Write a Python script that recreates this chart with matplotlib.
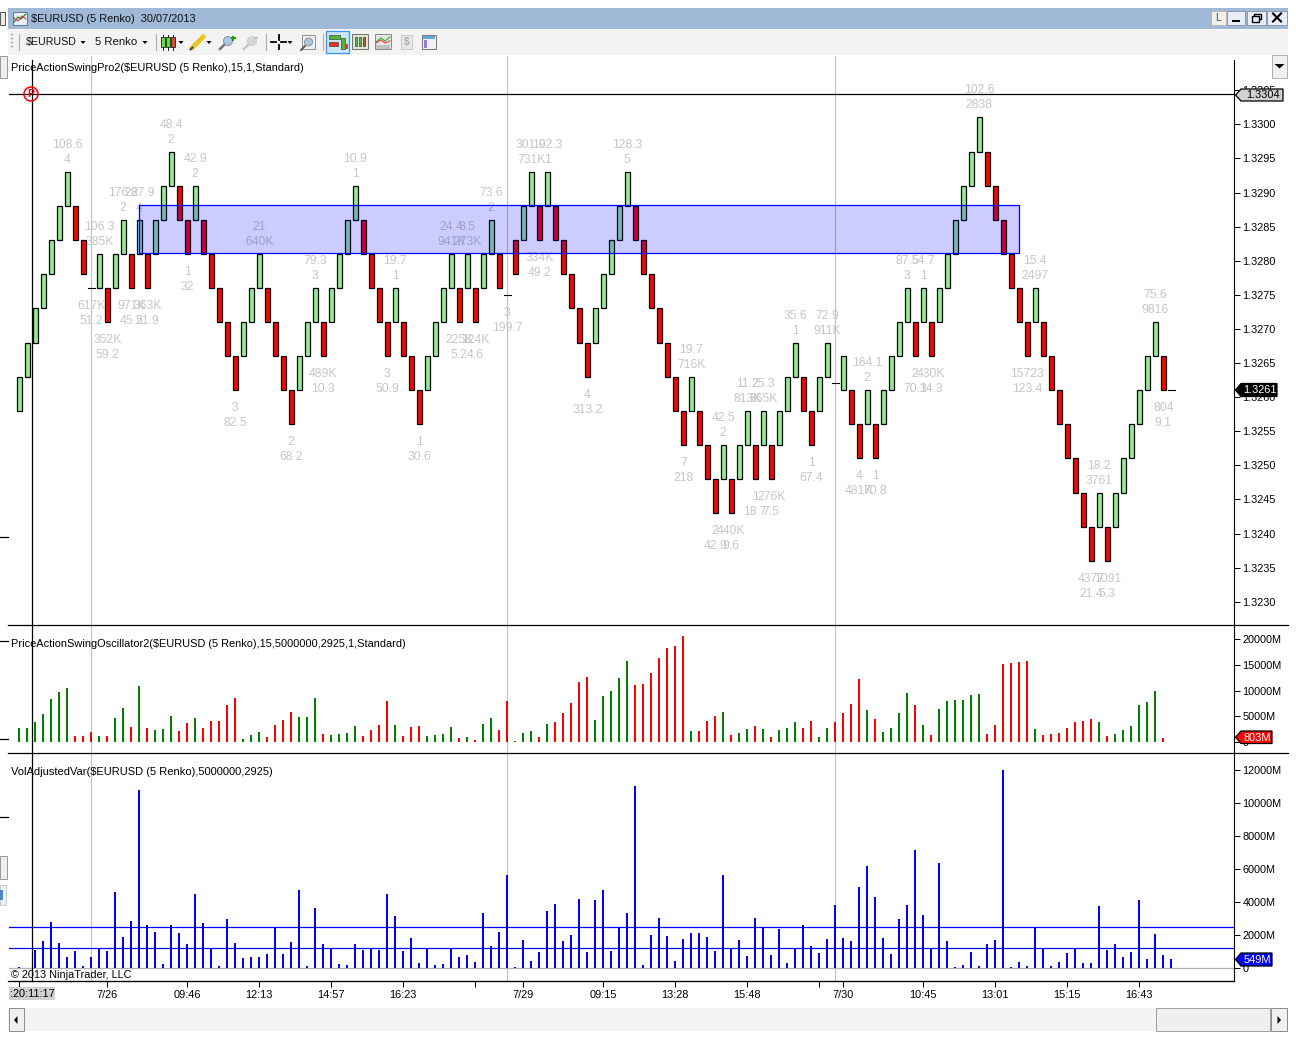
import matplotlib
matplotlib.use("Agg")
import matplotlib.pyplot as plt
from matplotlib.patches import Rectangle, Polygon, Circle

plt.rcParams["font.family"] = ["Liberation Sans", "DejaVu Sans"]

W, H = 1296, 1040
LABEL_C = "#C8C6C4"
UP_C = "#90EE90"
DOWN_C = "#FF0000"
OSC_G = "#008000"

# renko bricks, one per slot (open == close is the session gap doji)
bar_open = [
    1.3258, 1.3263, 1.3268, 1.3273, 1.3278, 1.3283, 1.3288, 1.3288, 1.3283, 1.3276,
    1.3276, 1.3276, 1.3276, 1.3281, 1.3281, 1.3281, 1.3281, 1.3281, 1.3286, 1.3291,
    1.3291, 1.3286, 1.3286, 1.3286, 1.3281, 1.3276, 1.3271, 1.3266, 1.3266, 1.3271,
    1.3276, 1.3276, 1.3271, 1.3266, 1.3261, 1.3261, 1.3266, 1.3271, 1.3271, 1.3271,
    1.3276, 1.3281, 1.3286, 1.3286, 1.3281, 1.3276, 1.3271, 1.3271, 1.3271, 1.3266,
    1.3261, 1.3261, 1.3266, 1.3271, 1.3276, 1.3276, 1.3276, 1.3276, 1.3276, 1.3281,
    1.3281, 1.3275, 1.3283, 1.3283, 1.3288, 1.3288, 1.3288, 1.3288, 1.3283, 1.3278,
    1.3273, 1.3268, 1.3268, 1.3273, 1.3278, 1.3283, 1.3288, 1.3288, 1.3283, 1.3278,
    1.3273, 1.3268, 1.3263, 1.3258, 1.3258, 1.3258, 1.3253, 1.3248, 1.3248, 1.3248,
    1.3248, 1.3253, 1.3253, 1.3253, 1.3253, 1.3253, 1.3258, 1.3263, 1.3263, 1.3258,
    1.3258, 1.3263, 1.3262, 1.3261, 1.3261, 1.3256, 1.3256, 1.3256, 1.3256, 1.3261,
    1.3266, 1.3271, 1.3271, 1.3271, 1.3271, 1.3271, 1.3276, 1.3281, 1.3286, 1.3291,
    1.3296, 1.3296, 1.3291, 1.3286, 1.3281, 1.3276, 1.3271, 1.3271, 1.3271, 1.3266,
    1.3261, 1.3256, 1.3251, 1.3246, 1.3241, 1.3241, 1.3241, 1.3241, 1.3246, 1.3251,
    1.3256, 1.3261, 1.3266, 1.3266, 1.3261,
]
bar_close = [
    1.3263, 1.3268, 1.3273, 1.3278, 1.3283, 1.3288, 1.3293, 1.3283, 1.3278, 1.3276,
    1.3281, 1.3271, 1.3281, 1.3286, 1.3276, 1.3286, 1.3276, 1.3286, 1.3291, 1.3296,
    1.3286, 1.3281, 1.3291, 1.3281, 1.3276, 1.3271, 1.3266, 1.3261, 1.3271, 1.3276,
    1.3281, 1.3271, 1.3266, 1.3261, 1.3256, 1.3266, 1.3271, 1.3276, 1.3266, 1.3276,
    1.3281, 1.3286, 1.3291, 1.3281, 1.3276, 1.3271, 1.3266, 1.3276, 1.3266, 1.3261,
    1.3256, 1.3266, 1.3271, 1.3276, 1.3281, 1.3271, 1.3281, 1.3271, 1.3281, 1.3286,
    1.3276, 1.3275, 1.3278, 1.3288, 1.3293, 1.3283, 1.3293, 1.3283, 1.3278, 1.3273,
    1.3268, 1.3263, 1.3273, 1.3278, 1.3283, 1.3288, 1.3293, 1.3283, 1.3278, 1.3273,
    1.3268, 1.3263, 1.3258, 1.3253, 1.3263, 1.3253, 1.3248, 1.3243, 1.3253, 1.3243,
    1.3253, 1.3258, 1.3248, 1.3258, 1.3248, 1.3258, 1.3263, 1.3268, 1.3258, 1.3253,
    1.3263, 1.3268, 1.3262, 1.3266, 1.3256, 1.3251, 1.3261, 1.3251, 1.3261, 1.3266,
    1.3271, 1.3276, 1.3266, 1.3276, 1.3266, 1.3276, 1.3281, 1.3286, 1.3291, 1.3296,
    1.3301, 1.3291, 1.3286, 1.3281, 1.3276, 1.3271, 1.3266, 1.3276, 1.3266, 1.3261,
    1.3256, 1.3251, 1.3246, 1.3241, 1.3236, 1.3246, 1.3236, 1.3246, 1.3251, 1.3256,
    1.3261, 1.3266, 1.3271, 1.3261, 1.3261,
]

# swing labels above highs and below lows: bar slot, upper line, lower line
high_bar = [6, 19, 22, 13, 15, 10, 30, 42, 37, 47, 54, 56, 59, 64, 66, 76, 97, 101, 84, 88,
            91, 93, 106, 111, 113, 120, 127, 135, 142]
high_top = ["108.6", "48.4", "42.9", "176.2", "287.9", "106.3", "21", "10.9", "79.3", "19.7",
            "24.4", "8.5", "73.6", "301.9", "102.3", "128.3", "35.6", "72.9", "19.7", "42.5",
            "11.2", "25.3", "164.1", "87.5", "54.7", "102.6", "15.4", "18.2", "75.6"]
high_bot = ["4", "2", "2", "2", "4", "385K", "640K", "1", "3", "1",
            "941K", "273K", "2", "731K", "1", "5", "1", "911K", "716K", "2",
            "813K", "865K", "2", "3", "1", "2838", "2497", "3761", "9816"]
low_bar = [9, 11, 14, 16, 21, 27, 34, 38, 46, 50, 55, 57, 61, 65, 71, 83, 87, 89, 92, 94,
           99, 105, 107, 112, 114, 126, 134, 136, 143]
low_top = ["617K", "352K", "971K", "363K", "1", "3", "2", "489K", "3", "1",
           "225K", "124K", "3", "334K", "4", "7", "2", "440K", "1", "276K",
           "1", "4", "1", "2", "430K", "15723", "4377", "1091", "804"]
low_bot = ["51.2", "59.2", "45.2", "51.9", "32", "82.5", "68.2", "10.3", "50.9", "30.6",
           "5.2", "4.6", "199.7", "49.2", "313.2", "218", "42.9", "9.6", "18.7", "7.5",
           "67.4", "481K", "70.8", "70.1", "34.3", "123.4", "21.4", "5.3", "9.1"]

zone_bars = [15, 125]
zone_prices = [1.32811, 1.32882]

osc_values = [
    2730, 2730, 3900, 5460, 8385, 9750, 10530, 1170, 1170, 1950, 1170, 1170, 4680, 6630, 2925,
    10920, 2730, 2340, 2535, 5070, 2145, 3705, 4680, 2730, 4095, 4095, 7215, 8580, 585, 1365,
    1950, 975, 3315, 4290, 5850, 4875, 4875, 8580, 1560, 1365, 1560, 1755, 3120, 1170, 2340,
    3315, 7995, 3315, 1170, 2925, 3120, 1170, 1365, 1560, 2925, 780, 975, 390, 3510, 4680,
    2340, 7995, 130, 1755, 2145, 975, 3510, 3900, 5655, 7605, 11700, 12675, 4290, 8970, 9945,
    12480, 15795, 11115, 11310, 13455, 16380, 18330, 18720, 20670, 2145, 2145, 4095, 5070,
    5850, 1365, 1755, 2535, 3120, 2535, 975, 2340, 2730, 3900, 2730, 4095, 975, 2730, 3900,
    5655, 7410, 12285, 6240, 4485, 1950, 2730, 5655, 9555, 7215, 3315, 1365, 6435, 7995, 8190,
    8190, 9165, 9360, 1560, 3315, 15210, 15405, 15600, 15795, 2535, 1365, 1560, 1755, 2730,
    3900, 4095, 4485, 3900, 1170, 1560, 2340, 3120, 7215, 7800, 9945, 803,
]
osc_up = [
    1, 1, 1, 1, 1, 1, 1, 0, 0, 0, 1, 0, 1, 1, 0, 1, 0, 1, 1, 1, 0, 0, 1, 0, 0, 0, 0, 0, 1, 1,
    1, 0, 0, 0, 0, 1, 1, 1, 0, 1, 1, 1, 1, 0, 0, 0, 0, 1, 0, 0, 0, 1, 1, 1, 1, 0, 1, 0, 1, 1,
    0, 0, 1, 1, 1, 0, 1, 0, 0, 0, 0, 0, 1, 1, 1, 1, 1, 0, 0, 0, 0, 0, 0, 0, 1, 0, 0, 0, 1, 0,
    1, 1, 0, 1, 0, 1, 1, 1, 0, 0, 1, 1, 0, 0, 0, 0, 1, 0, 1, 1, 1, 1, 0, 1, 0, 1, 1, 1, 1, 1,
    1, 0, 0, 0, 0, 0, 0, 1, 0, 0, 0, 0, 0, 0, 0, 1, 0, 1, 1, 1, 1, 1, 1, 0,
]

vol_values = [
    60, 0, 1090, 1636, 2788, 1515, 667, 1030, 121, 667, 1151, 1030, 4606, 1879, 2848, 10787,
    2606, 2182, 242, 2606, 2121, 1454, 4484, 2727, 1252, 121, 2969, 1515, 606, 667, 667, 848,
    2424, 848, 1576, 4727, 121, 3636, 1454, 1252, 242, 182, 1454, 1090, 1151, 1090, 4484, 3151,
    1030, 1818, 303, 1151, 182, 242, 1252, 667, 788, 364, 3333, 1333, 2182, 5636, 60, 1697,
    424, 970, 3454, 3878, 1636, 2000, 4181, 970, 4121, 4727, 1030, 2424, 3333, 11029,
    182, 2000, 3030, 1939, 424, 1757, 2121, 2121, 1879, 1030, 5636, 1252, 1697, 727, 3030,
    2525, 788, 2363, 303, 1252, 2606, 1333, 909, 1757, 3818, 1818, 1636, 4909, 6181, 4303,
    1818, 848, 2969, 3818, 7151, 3212, 1252, 6363, 1636, 60, 182, 970, 121, 1454, 1697, 11999,
    60, 364, 121, 2525, 1252, 121, 364, 909, 1252, 303, 303, 3757, 1090, 1454, 667, 970, 4121,
    545, 2060, 788, 549,
]
vol_levels = [2525, 1252]

price_ticks = [1.3230, 1.3235, 1.3240, 1.3245, 1.3250, 1.3255, 1.3260, 1.3265, 1.3270, 1.3275,
               1.3280, 1.3285, 1.3290, 1.3295, 1.3300, 1.3305]
osc_ticks = [0, 5000, 10000, 15000, 20000]
vol_ticks = [0, 2000, 4000, 6000, 8000, 10000, 12000]
time_ticks = [0, 11, 21, 30, 39, 48, 57, 63, 73, 82, 91, 100, 103, 113, 122, 131, 140]
time_labels = ["", "7/26", "09:46", "12:13", "14:57", "16:23", "", "7/29", "09:15", "13:28",
               "15:48", "", "7/30", "10:45", "13:01", "15:15", "16:43"]
session_bars = [9, 61, 102]


def make_panel(fig, top, bottom):
    # panels share the x scale: slot i sits at 19.3 + 8 * i pixels
    ax = fig.add_axes([9 / W, 1 - bottom / H, (1234.3 - 9) / W, (bottom - top) / H])
    ax.set_xlim((9 - 19.3) / 8, (1234.3 - 19.3) / 8)
    for side in ["top", "left", "bottom"]:
        ax.spines[side].set_visible(False)
    ax.spines["right"].set_linewidth(0.8)
    ax.yaxis.tick_right()
    ax.tick_params(axis="y", length=4.3, width=0.72, labelsize=7.8, pad=1.5)
    ax.set_xticks([])
    for b in session_bars:
        ax.axvline(b, color="#C0C0C0", lw=0.8, zorder=0)
    return ax


def draw_main(ax):
    ylow, yhigh = 1.33 - (625 - 124.3) / 68200, 1.33 + (124.3 - 56) / 68200
    ax.set_ylim(ylow, yhigh)
    ax.spines["right"].set_bounds(ylow, 1.33 + (124.3 - 60) / 68200)
    for i, (o, c) in enumerate(zip(bar_open, bar_close)):
        if o == c:
            ax.plot([i - 0.45, i + 0.45], [c, c], color="black", lw=0.8, zorder=2)
        else:
            ax.bar(i, abs(c - o), bottom=min(o, c), width=0.68,
                   color=UP_C if c > o else DOWN_C, edgecolor="black", linewidth=0.9, zorder=2)

    for i, t, b in zip(high_bar, high_top, high_bot):
        top = max(bar_open[i], bar_close[i])
        for txt, off in ((t, 27), (b, 12)):
            ax.annotate(txt, (i, top), xytext=(0, off * 0.72), textcoords="offset points",
                        ha="center", va="center", color=LABEL_C, fontsize=8.7, zorder=1)
    for i, t, b in zip(low_bar, low_top, low_bot):
        low = min(bar_open[i], bar_close[i])
        for txt, off in ((t, -18), (b, -33)):
            ax.annotate(txt, (i, low), xytext=(0, off * 0.72), textcoords="offset points",
                        ha="center", va="center", color=LABEL_C, fontsize=8.7, zorder=1)

    # supply zone goes over the bricks and the labels
    ax.add_patch(Rectangle((zone_bars[0], zone_prices[0]), zone_bars[1] - zone_bars[0],
                           zone_prices[1] - zone_prices[0], facecolor=(0, 0, 1, 0.2),
                           edgecolor="#0000FF", linewidth=0.9, zorder=3))
    ax.set_yticks(price_ticks)
    ax.set_yticklabels(["{:.4f}".format(p) for p in price_ticks])


def draw_osc(ax):
    ax.set_ylim((741.8 - 753) * 20000 / 102.5, (741.8 - 625) * 20000 / 102.5)
    colors = [OSC_G if u else DOWN_C for u in osc_up]
    ax.bar(range(len(osc_values)), osc_values, width=0.24, color=colors, zorder=2)
    ax.set_yticks(osc_ticks)
    ax.set_yticklabels(["0" if v == 0 else "{}M".format(v) for v in osc_ticks])


def draw_vol(ax):
    ax.set_ylim((968.3 - 981) * 2000 / 33, (968.3 - 753) * 2000 / 33)
    ax.bar(range(len(vol_values)), vol_values, width=0.24, color="#0000FF", zorder=2)
    for lv in vol_levels:
        ax.axhline(lv, color="#0000FF", lw=0.9, zorder=3)
    ax.axhline(0, color="#B0B0B0", lw=0.9, zorder=1)
    ax.set_yticks(vol_ticks)
    ax.set_yticklabels(["0" if v == 0 else "{}M".format(v) for v in vol_ticks])
    ax.spines["bottom"].set_visible(True)
    ax.spines["bottom"].set_linewidth(0.8)
    ax.set_xticks(time_ticks)
    ax.set_xticklabels(time_labels)
    ax.tick_params(axis="x", length=4.3, width=0.72, labelsize=7.9, pad=2.5)


def rect(ov, x0, y0, x1, y1, fc, ec="none", lw=0.7, z=1):
    ov.add_patch(Rectangle((x0, y0), x1 - x0, y1 - y0, facecolor=fc, edgecolor=ec, linewidth=lw, zorder=z))


def value_tag(ov, y0, y1, x1, fc, ec, tc, txt):
    mid = (y0 + y1) / 2
    ov.add_patch(Polygon([(1235.5, mid), (1241, y0), (x1, y0), (x1, y1), (1241, y1)],
                         closed=True, facecolor=fc, edgecolor=ec, linewidth=0.9, zorder=6))
    ov.text((1241 + x1) / 2 + 0.5, mid + 0.3, txt, color=tc, fontsize=7.9, ha="center", va="center", zorder=7)


def draw_window_buttons(ov):
    fill = "#E8EEF8"
    rect(ov, 1211, 11, 1226, 24.5, "#F4EFE0", "#B8B8B8", z=2)
    ov.text(1218.5, 18, "L", fontsize=7.5, ha="center", va="center", color="#205080", zorder=4)
    rect(ov, 1227, 10.5, 1245, 24.5, fill, "#8A98A8", z=2)
    rect(ov, 1232, 20, 1240, 22, "black", z=3)
    rect(ov, 1247, 10.5, 1266, 24.5, fill, "#8A98A8", z=2)
    rect(ov, 1254, 13.5, 1261, 19, "none", "black", lw=1, z=3)
    rect(ov, 1251.5, 16, 1258.5, 21.5, fill, "black", lw=1, z=4)
    rect(ov, 1267, 10.5, 1287, 24.5, fill, "#8A98A8", z=2)
    ov.plot([1273, 1281], [13.5, 21.5], color="black", lw=1.5, zorder=3)
    ov.plot([1281, 1273], [13.5, 21.5], color="black", lw=1.5, zorder=3)


def draw_toolbar(ov):
    ov.text(26, 42, "$EURUSD", fontsize=7.7, va="center", zorder=4, color="#101010")
    ov.text(95, 42, "5 Renko", fontsize=8.2, va="center", zorder=4, color="#101010")
    for x in [83, 145, 181, 209, 290]:
        ov.add_patch(Polygon([(x - 2.5, 41), (x + 2.5, 41), (x, 44)], facecolor="black", zorder=4))
    for y in [34, 38, 42, 46]:
        ov.plot([11, 12], [y, y], color="#A0A0A0", lw=1, zorder=3)
    for x in [19, 156, 266, 323]:
        ov.plot([x, x], [34, 50], color="#B0B0B0", lw=0.8, zorder=3)
    # candle icon
    for x, c in [(163, "#66DD33"), (168, "#66DD33"), (173, "#EE4422")]:
        ov.plot([x, x], [34.5, 49.5], color="#222222", lw=0.7, zorder=3)
        rect(ov, x - 2, 37, x + 2, 47, c, "#222222", lw=0.6, z=4)
    # pencil
    ov.plot([192.5, 203], [47.5, 37], color="#E8C820", lw=3.4, zorder=3)
    ov.plot([190.5, 192.5], [49.5, 47.5], color="#444444", lw=1.4, zorder=3)
    # add-drawing magnifiers
    ov.plot([220, 226], [49, 43], color="#6A7A8A", lw=1.8, zorder=3)
    ov.add_patch(Circle((228, 41), 4.5, facecolor="#A8C8E8", edgecolor="#888888", lw=0.6, zorder=3))
    rect(ov, 230.5, 37.2, 235.5, 39.2, "#10A010", z=4)
    rect(ov, 232, 35.5, 234, 41, "#10A010", z=4)
    ov.plot([244, 250], [49, 43], color="#C4C4C4", lw=1.8, zorder=3)
    ov.add_patch(Circle((252, 41), 4.5, facecolor="#D8D8D8", edgecolor="#C8C8C8", lw=0.6, zorder=3))
    rect(ov, 254, 37, 258, 38.5, "#C4C4C4", z=4)
    # crosshair tool
    for xs, ys in [([271, 276], [42, 42]), ([281, 286], [42, 42]),
                   ([278.5, 278.5], [35, 39.5]), ([278.5, 278.5], [44.5, 49])]:
        ov.plot(xs, ys, color="black", lw=1.3, zorder=3)
    # zoom box
    rect(ov, 302, 35, 315, 49, "#F0F0F0", "#909090", z=3)
    ov.plot([301, 305], [50, 46], color="#555555", lw=1.4, zorder=4)
    ov.add_patch(Circle((308.5, 42), 4, facecolor="#A8C8E8", edgecolor="#888888", lw=0.6, zorder=4))
    # panel buttons
    rect(ov, 326, 31, 349, 53, "#CDE6F7", "#3399FF", lw=0.9, z=2)
    rect(ov, 329, 35, 340, 38.5, "#55BB33", "#222222", lw=0.4, z=3)
    rect(ov, 329, 42, 338, 45.5, "#EE3322", "#222222", lw=0.4, z=3)
    rect(ov, 341, 38, 344.5, 49, "#55BB33", "#222222", lw=0.4, z=3)
    rect(ov, 345.5, 44, 347.5, 49, "#EE3322", z=3)
    rect(ov, 352, 34, 368, 49, "#DDE8D0", "#707070", z=3)
    for x, c in [(356, "#55BB33"), (360, "#55BB33"), (364, "#EE3322")]:
        rect(ov, x - 1.2, 37, x + 1.2, 46, c, "#222222", lw=0.4, z=4)
    rect(ov, 375, 34, 391, 49, "#E6E6E6", "#888888", z=3)
    ov.plot([376, 381, 385, 390], [42, 38, 41, 37], color="#33AA33", lw=0.8, zorder=4)
    ov.plot([376, 381, 385, 390], [43, 40, 43, 41], color="#DD4444", lw=0.8, zorder=4)
    rect(ov, 376, 45, 390, 48.5, "#C0C0C0", z=4)
    rect(ov, 401, 35, 412, 49, "#E8E8E8", "#C8C8C8", z=3)
    ov.text(406.5, 42, "$", color="#AAAAAA", fontsize=7, fontweight="bold", ha="center", va="center", zorder=4)
    rect(ov, 422, 35, 436, 49, "#F2F2F8", "#777777", z=3)
    rect(ov, 423, 36, 435, 38.5, "#5FA8D8", z=4)
    rect(ov, 424, 40, 427, 48, "#9977DD", z=4)


def draw_chrome(ov):
    # window frame
    rect(ov, 8, 8, 1288, 29, "#A0B9D6")
    rect(ov, 8, 29, 1288, 55, "#F3F3F3")
    rect(ov, 8, 29, 1288, 30, "#FBFBFB")
    rect(ov, 0, 12, 5, 25, "#E8E8E8", "#555555")
    rect(ov, 0, 56, 7, 78, "#EFEFEF", "#999999")
    rect(ov, 0, 856, 7, 879, "#EFEFEF", "#999999")
    rect(ov, 0, 885, 6, 905, "#EAF0F8", "#C8C8C8")
    rect(ov, 0, 890, 3, 900, "#4A86C8")
    rect(ov, 1272, 55, 1287, 78, "#F0F0F0", "#B0B0B0")
    ov.add_patch(Polygon([(1274.5, 64), (1284.5, 64), (1279.5, 68.5)], facecolor="black", zorder=3))

    # title bar
    rect(ov, 13, 12, 27, 25, "#E8EEF5", "#5A7A9A")
    ov.plot([14, 18, 21, 26], [22, 17, 19, 14], color="#2E8B2E", lw=0.9, zorder=3)
    ov.plot([14, 18, 22, 26], [18, 21, 16, 19], color="#CC3333", lw=0.7, zorder=3)
    ov.text(31, 18.5, "$EURUSD (5 Renko)  30/07/2013", fontsize=7.95, va="center", color="#101010", zorder=4)
    draw_window_buttons(ov)
    draw_toolbar(ov)

    # panel separators, stub ticks of the left axis, crosshair
    for y in [625, 753, 981]:
        ov.plot([8, 1288 if y != 981 else 1234], [y, y], color="black", lw=0.9, zorder=4)
    for y in [537, 641, 739, 817]:
        ov.plot([0, 8], [y, y], color="black", lw=0.9, zorder=4)
    ov.plot([9, 1234], [94.3, 94.3], color="black", lw=0.9, zorder=5)
    ov.plot([32.2, 32.2], [60, 981], color="black", lw=0.9, zorder=5)
    ov.add_patch(Circle((31, 94), 7, facecolor="none", edgecolor="#FF0000", lw=1.1, zorder=6))
    ov.text(31, 94, "P", color="#FF0000", fontsize=7.5, fontweight="bold", ha="center", va="center", zorder=6)

    # panel captions
    ov.text(11, 68, "PriceActionSwingPro2($EURUSD (5 Renko),15,1,Standard)", fontsize=7.96, va="center", zorder=6)
    ov.text(11, 644, "PriceActionSwingOscillator2($EURUSD (5 Renko),15,5000000,2925,1,Standard)",
            fontsize=7.93, va="center", zorder=6)
    ov.text(11, 772, "VolAdjustedVar($EURUSD (5 Renko),5000000,2925)", fontsize=8.03, va="center", zorder=6)
    ov.text(11, 975.5, "\u00a9 2013 NinjaTrader, LLC", fontsize=7.85, va="center", zorder=6)

    # value tags on the right axis
    value_tag(ov, 89, 101, 1283, "#D0D0D0", "black", "black", "1.3304")
    value_tag(ov, 383.5, 396.5, 1277, "black", "black", "white", "1.3261")
    value_tag(ov, 731, 743.5, 1272, "#FF0000", "black", "white", "803M")
    value_tag(ov, 953, 966, 1272, "#0000FF", "black", "white", "549M")

    # crosshair time tag
    rect(ov, 9, 987, 55, 1000, "#D0D0D0", z=3)
    ov.text(32, 994, ":20:11:17", fontsize=7.9, ha="center", va="center", zorder=4)

    # scrollbar
    rect(ov, 8, 1008, 1288, 1031, "#F4F4F4")
    rect(ov, 9, 1008, 24, 1031, "#F0F0F0", "#8A8A8A")
    ov.add_patch(Polygon([(17.5, 1016), (17.5, 1024), (14, 1020)], facecolor="black", zorder=3))
    rect(ov, 1156, 1008, 1270, 1031, "#EFEFEF", "#A0A0A0")
    rect(ov, 1271, 1008, 1287, 1031, "#F0F0F0", "#8A8A8A")
    ov.add_patch(Polygon([(1277.5, 1016), (1277.5, 1024), (1281, 1020)], facecolor="black", zorder=3))


def main():
    fig = plt.figure(figsize=(W / 100, H / 100), dpi=100, facecolor="white")
    main_ax = make_panel(fig, 56, 625)
    osc_ax = make_panel(fig, 625, 753)
    vol_ax = make_panel(fig, 753, 981)
    draw_main(main_ax)
    draw_osc(osc_ax)
    draw_vol(vol_ax)

    ov = fig.add_axes([0, 0, 1, 1], zorder=10)
    ov.set_xlim(0, W)
    ov.set_ylim(H, 0)
    ov.axis("off")
    draw_chrome(ov)

    fig.savefig("out.png", dpi=100)


if __name__ == "__main__":
    main()
